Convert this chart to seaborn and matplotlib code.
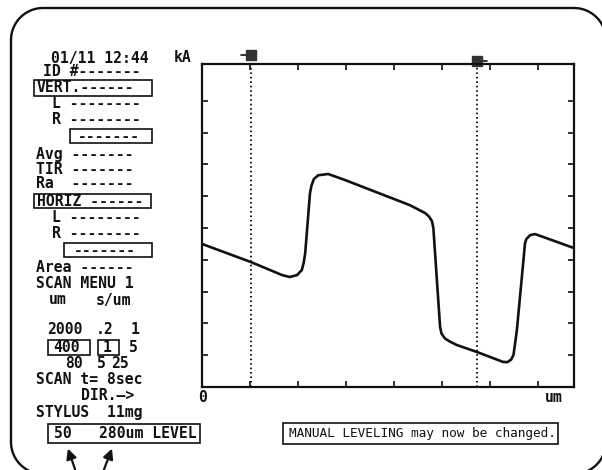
import matplotlib
matplotlib.use("Agg")
import matplotlib.pyplot as plt
import seaborn as sns
import numpy as np
import pandas as pd
from matplotlib.patches import Rectangle

# profile trace (x in tick units, y in tick units)
profile_x = [0.00, 1.02, 1.67, 1.83, 1.98, 2.08, 2.12, 2.15, 2.25, 2.28, 2.33, 2.42, 2.63,
             2.98, 4.33, 4.65, 4.73, 4.79, 4.82, 4.96, 4.99, 5.06, 5.15, 5.31, 5.73, 6.27,
             6.36, 6.44, 6.49, 6.56, 6.73, 6.76, 6.84, 6.94, 7.75]
profile_y = [4.50, 3.93, 3.52, 3.46, 3.52, 3.68, 3.92, 4.21, 6.10, 6.33, 6.54, 6.66, 6.70,
             6.51, 5.72, 5.47, 5.36, 5.22, 5.00, 1.89, 1.68, 1.53, 1.44, 1.32, 1.10, 0.79,
             0.78, 0.86, 1.01, 1.79, 4.53, 4.66, 4.78, 4.81, 4.37]
cursor_x = [1.02, 5.73]
cursor_flag_y = [10.44, 10.25]
x_ticks = [1, 2, 3, 4, 5, 6, 7]
y_ticks = [1, 2, 3, 4, 5, 6, 7, 8, 9]

# left status panel: (text, x px, y px)
panel_lines = [
    ("01/11 12:44", 51, 58), ("kA", 174, 58),
    ("ID #-------", 43, 72),
    ("VERT.------", 37, 88),
    ("L --------", 52, 104),
    ("R --------", 52, 119),
    ("-------", 78, 136),
    ("Avg -------", 36, 154),
    ("TIR -------", 36, 169),
    ("Ra  -------", 36, 184),
    ("HORIZ ------", 37, 201),
    ("L --------", 52, 218),
    ("R --------", 52, 234),
    ("-------", 74, 250),
    ("Area ------", 36, 268),
    ("SCAN MENU 1", 36, 284),
    ("um", 49, 300), ("s/um", 96, 300),
    ("2000", 47, 329), (".2", 96, 329), ("1", 131, 329),
    ("400", 53, 347), ("1", 103, 347), ("5", 129, 347),
    ("80", 65, 364), ("5", 97, 364), ("25", 111, 364),
    ("SCAN t= 8sec", 36, 380),
    ("DIR.—>", 81, 396),
    ("STYLUS  11mg", 36, 413),
    ("50", 54, 433), ("280um LEVEL", 99, 433),
    ("0", 198, 398), ("um", 545, 398),
]
panel_boxes = [(34, 80, 152, 96), (70, 129, 152, 143), (34, 194, 151, 208),
               (64, 243, 152, 257), (48, 340, 90, 355), (98, 340, 119, 355),
               (48, 424, 200, 443), (283, 423, 558, 444)]
message = "MANUAL LEVELING may now be changed."


def rounded_frame(x0, y0, x1, y1, r):
    # corner centres and sweep angles (y grows downward here)
    pts = []
    for cx, cy, a0 in [(x1 - r, y0 + r, -90), (x1 - r, y1 - r, 0),
                       (x0 + r, y1 - r, 90), (x0 + r, y0 + r, 180)]:
        a = np.radians(np.linspace(a0, a0 + 90, 20))
        pts += list(zip(cx + r * np.cos(a), cy + r * np.sin(a)))
    pts.append(pts[0])
    return np.array(pts)


sns.set_style("white")
plt.rcParams['font.family'] = ['DejaVu Sans Mono', 'DejaVu Sans']

fig = plt.figure(figsize=(6.02, 4.70), dpi=100)
bg = fig.add_axes([0, 0, 1, 1])
bg.set_xlim(0, 602)
bg.set_ylim(470, 0)
bg.axis('off')

# rounded screen frame (right and bottom edges run just off the picture)
frame = rounded_frame(11, 8, 606, 474, 32)
bg.plot(frame[:, 0], frame[:, 1], color='#111111', lw=1.7, clip_on=False)
for x0, y0, x1, y1 in panel_boxes:
    bg.add_patch(Rectangle((x0, y0), x1 - x0, y1 - y0, fill=False, lw=1.2, ec='#111111'))
for s, x, y in panel_lines:
    bg.text(x, y, s, ha='left', va='center', fontsize=10.6, fontweight='bold', color='#111111')
bg.text(289, 433.5, message, ha='left', va='center', fontsize=9.2, color='#111111')

# arrows pointing at the LEVEL box
for tail, head in [((76, 472), (67, 446)), ((103, 472), (113, 446))]:
    bg.annotate("", xy=head, xytext=tail,
                arrowprops=dict(arrowstyle='-|>', color='#111111', lw=1.6, mutation_scale=15),
                annotation_clip=False)

ax = fig.add_axes([202 / 602, 1 - 387 / 470, 372 / 602, 323 / 470])
ax.set_facecolor('none')
df = pd.DataFrame({'x': profile_x, 'y': profile_y})
sns.lineplot(data=df, x='x', y='y', sort=False, estimator=None, color='#111111', lw=1.9, ax=ax)

for cx, fy, side in zip(cursor_x, cursor_flag_y, [-1, 1]):
    ax.axvline(cx, ls=(0, (0.8, 1.5)), lw=1.4, color='#111111')
    ax.plot([cx, cx + side * 0.2], [fy, fy], color='#111111', lw=1.2, clip_on=False)
    ax.plot(cx, fy, marker='s', ms=7, color='#333333', clip_on=False)

ax.set_xlim(0, 7.75)
ax.set_ylim(0, 10.16)
ax.set_xticks(x_ticks)
ax.set_yticks(y_ticks)
ax.tick_params(direction='in', length=4, width=1.2, color='#111111', top=True, right=True,
               bottom=True, left=True, labelbottom=False, labelleft=False)
ax.set_xlabel('')
ax.set_ylabel('')
for sp in ax.spines.values():
    sp.set_linewidth(1.6)
    sp.set_color('#111111')

fig.savefig("out.png", dpi=100)
